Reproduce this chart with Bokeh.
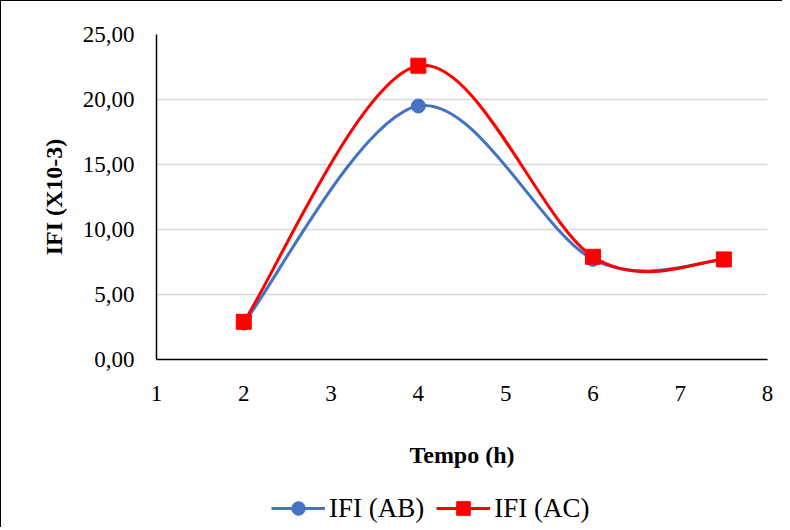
from bokeh.plotting import figure
from bokeh.layouts import column
from bokeh.models import Range1d, FixedTicker, Legend, LegendItem, ColumnDataSource
from bokeh.embed import file_html
from bokeh.resources import INLINE

# ---- data ----
tempo_h = [2, 4, 6, 7.5]
ifi_ab = [2.8, 19.5, 7.7, 7.65]
ifi_ac = [2.9, 22.6, 7.9, 7.7]
x_ticks = [1, 2, 3, 4, 5, 6, 7, 8]
y_ticks = [0, 5, 10, 15, 20, 25]
y_tick_labels = ["0,00", "5,00", "10,00", "15,00", "20,00", "25,00"]
series_labels = ["IFI (AB)", "IFI (AC)"]

BLUE = "#4472C4"
RED = "#FF0000"
FONT = "Liberation Serif"
SERIES = ((ifi_ab, BLUE, "circle", 14), (ifi_ac, RED, "square", 15))


def smooth_segments(xs, ys):
    """Excel-like smoothed line: cubic Bezier control points (Catmull-Rom, 1/6)."""
    n = len(xs)
    d = dict(x0=[], y0=[], x1=[], y1=[], cx0=[], cy0=[], cx1=[], cy1=[])
    for i in range(n - 1):
        xm, ym = xs[max(i - 1, 0)], ys[max(i - 1, 0)]
        xp, yp = xs[min(i + 2, n - 1)], ys[min(i + 2, n - 1)]
        d["x0"].append(xs[i]); d["y0"].append(ys[i])
        d["x1"].append(xs[i + 1]); d["y1"].append(ys[i + 1])
        d["cx0"].append(xs[i] + (xs[i + 1] - xm) / 6)
        d["cy0"].append(ys[i] + (ys[i + 1] - ym) / 6)
        d["cx1"].append(xs[i + 1] - (xp - xs[i]) / 6)
        d["cy1"].append(ys[i + 1] - (yp - ys[i]) / 6)
    return ColumnDataSource(d)


# ---------------- main chart ----------------
p = figure(width=781, height=488, output_backend="svg", toolbar_location=None,
           x_range=Range1d(1, 8), y_range=Range1d(0, 25),
           min_border_left=155, min_border_right=15, min_border_top=33,
           min_border_bottom=130)
p.outline_line_color = None
p.background_fill_color = "white"
p.border_fill_color = "white"

p.xgrid.visible = False
p.ygrid.grid_line_color = "#D9D9D9"
p.ygrid.grid_line_width = 1.5

p.xaxis.ticker = FixedTicker(ticks=x_ticks)
p.yaxis.ticker = FixedTicker(ticks=y_ticks)
p.yaxis.major_label_overrides = {t: l for t, l in zip(y_ticks, y_tick_labels)}
for ax in (p.xaxis[0], p.yaxis[0]):
    ax.axis_line_color = "black"
    ax.axis_line_width = 1.5
    ax.major_tick_line_color = None
    ax.minor_tick_line_color = None
    ax.major_label_text_font = FONT
    ax.major_label_text_font_size = "23px"
    ax.major_label_text_color = "black"
    ax.axis_label_text_font = FONT
    ax.axis_label_text_font_size = "24px"
    ax.axis_label_text_font_style = "bold"
    ax.axis_label_text_color = "black"
p.xaxis.major_label_standoff = 20
p.yaxis.major_label_standoff = 16
p.xaxis.axis_label = "Tempo (h)"
p.yaxis.axis_label = "IFI (X10-3)"
p.xaxis.axis_label_standoff = 38
p.yaxis.axis_label_standoff = 13

for ys, color, marker, size in SERIES:
    src = smooth_segments(tempo_h, ys)
    p.bezier(x0="x0", y0="y0", x1="x1", y1="y1", cx0="cx0", cy0="cy0",
             cx1="cx1", cy1="cy1", source=src, line_color=color, line_width=3)
    p.scatter(tempo_h, ys, marker=marker, size=size, fill_color=color,
              line_color=color)

# ---------------- legend strip ----------------
lg = figure(width=781, height=38, output_backend="svg", toolbar_location=None,
            x_axis_type=None, y_axis_type=None,
            min_border_left=0, min_border_right=0, min_border_top=0,
            min_border_bottom=0)
lg.outline_line_color = None
lg.grid.visible = False
items = []
for (ys, color, marker, size), label in zip(SERIES, series_labels):
    ln = lg.line(tempo_h, ys, line_color=color, line_width=3, visible=False)
    sc = lg.scatter(tempo_h, ys, marker=marker, size=size, fill_color=color,
                    line_color=color, visible=False)
    items.append(LegendItem(label=label, renderers=[ln, sc]))

legend = Legend(items=items, orientation="horizontal", location=(115, 2),
                border_line_color=None, background_fill_alpha=0,
                inactive_fill_alpha=0,
                padding=0, margin=0, spacing=12, label_standoff=4,
                glyph_width=54, glyph_height=34,
                label_text_font=FONT, label_text_font_size="27px",
                label_text_color="black")
lg.add_layout(legend, "center")

layout = column(p, lg, spacing=0)
layout.styles = {"border-top": "1px solid #000000", "border-left": "1px solid #000000"}

open("out.html", "w").write(file_html(layout, INLINE))
